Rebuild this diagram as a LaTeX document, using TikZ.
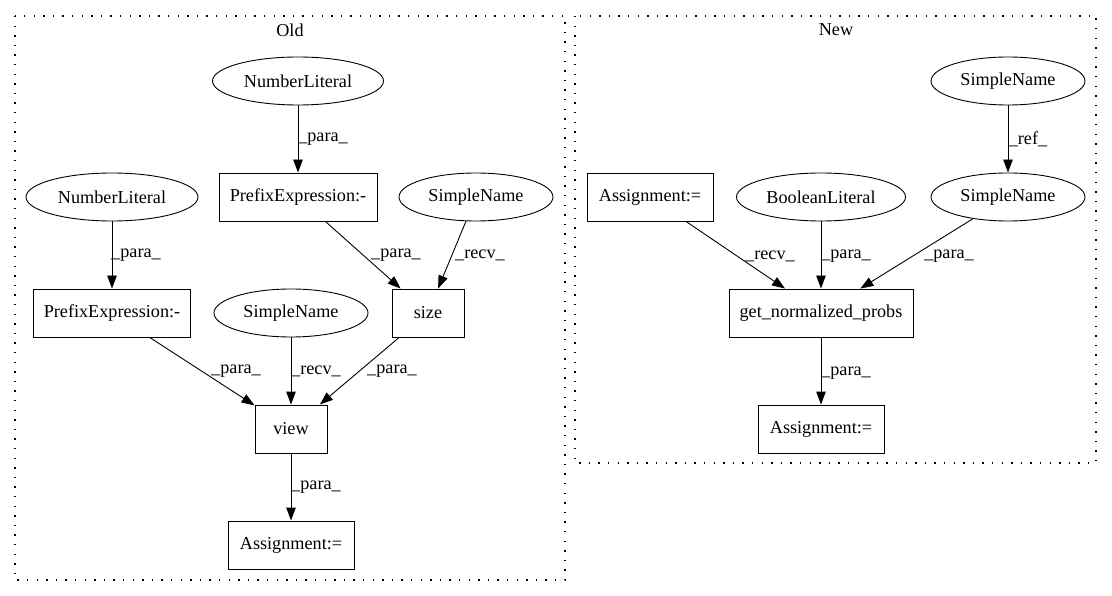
\documentclass[tikz,border=0pt]{standalone}
\usepackage{fontspec}
\setmainfont{Liberation Serif}
\usetikzlibrary{shapes.geometric,arrows.meta}
\begin{document}
\begin{tikzpicture}[x=1pt,y=-1pt,
  every node/.style={font=\fontsize{18.2}{22}\selectfont},
  ell/.style={draw, ellipse, line width=0.9pt, inner sep=0pt, minimum height=48pt},
  box/.style={draw, rectangle, line width=0.9pt, inner sep=0pt, minimum height=48pt},
  conn/.style={line width=0.9pt, -{Triangle[length=13pt,width=9.5pt]}},
  lbl/.style={inner sep=0pt},
  cluster/.style={draw, line width=1.1pt, dash pattern=on 1.4pt off 8.2pt},
  title/.style={inner sep=0pt}]
\useasboundingbox (0,0) rectangle (1112,596);
% clusters
\draw[cluster] (15,16) rectangle (565,580);
\node[title] (told) at (290,30) {Old};
\draw[cluster] (575,16) rectangle (1096,463);
\node[title] (tnew) at (836,30) {New};
% Old nodes
\node[ell, minimum width=171pt] (nl1) at (298,81) {NumberLiteral};
\node[box, minimum width=158pt] (pe1) at (298,197) {PrefixExpression:-};
\node[ell, minimum width=154pt] (sn1) at (476,197) {SimpleName};
\node[ell, minimum width=172pt] (nl2) at (112,197) {NumberLiteral};
\node[box, minimum width=157pt] (pe2) at (112,313) {PrefixExpression:-};
\node[ell, minimum width=154pt] (sn2) at (291,313) {SimpleName};
\node[box, minimum width=72pt] (size) at (428,313) {size};
\node[box, minimum width=72pt] (view) at (291,429) {view};
\node[box, minimum width=126pt] (as1) at (291,545) {Assignment:=};
% New nodes
\node[ell, minimum width=154pt] (sn3) at (1008,81) {SimpleName};
\node[box, minimum width=126pt] (as2) at (650,197) {Assignment:=};
\node[ell, minimum width=169pt] (bl) at (821,197) {BooleanLiteral};
\node[ell, minimum width=154pt] (sn4) at (1008,197) {SimpleName};
\node[box, minimum width=184pt] (gnp) at (821,313) {get\_normalized\_probs};
\node[box, minimum width=126pt] (as3) at (821,429) {Assignment:=};
% Old edges
\draw[conn] (nl1) -- (pe1);
\draw[conn] (nl2) -- (pe2);
\draw[conn] (pe1) -- (size);
\draw[conn] (sn1) -- (size);
\draw[conn] (pe2) -- (view);
\draw[conn] (sn2) -- (view);
\draw[conn] (size) -- (view);
\draw[conn] (view) -- (as1);
% New edges
\draw[conn] (sn3) -- (sn4);
\draw[conn] (as2) -- (gnp);
\draw[conn] (bl) -- (gnp);
\draw[conn] (sn4) -- (gnp);
\draw[conn] (gnp) -- (as3);
% edge labels
\node[lbl] (l1) at (323,139) {\_para\_};
\node[lbl] (l2) at (136,255) {\_para\_};
\node[lbl] (l3) at (396,255) {\_para\_};
\node[lbl] (l4) at (480,255) {\_recv\_};
\node[lbl] (l5) at (236,371) {\_para\_};
\node[lbl] (l6) at (316,371) {\_recv\_};
\node[lbl] (l7) at (392,371) {\_para\_};
\node[lbl] (l8) at (316,487) {\_para\_};
\node[lbl] (l9) at (1028,139) {\_ref\_};
\node[lbl] (l10) at (770,256) {\_recv\_};
\node[lbl] (l11) at (846,256) {\_para\_};
\node[lbl] (l12) at (949,256) {\_para\_};
\node[lbl] (l13) at (846,373) {\_para\_};
\end{tikzpicture}
\end{document}
